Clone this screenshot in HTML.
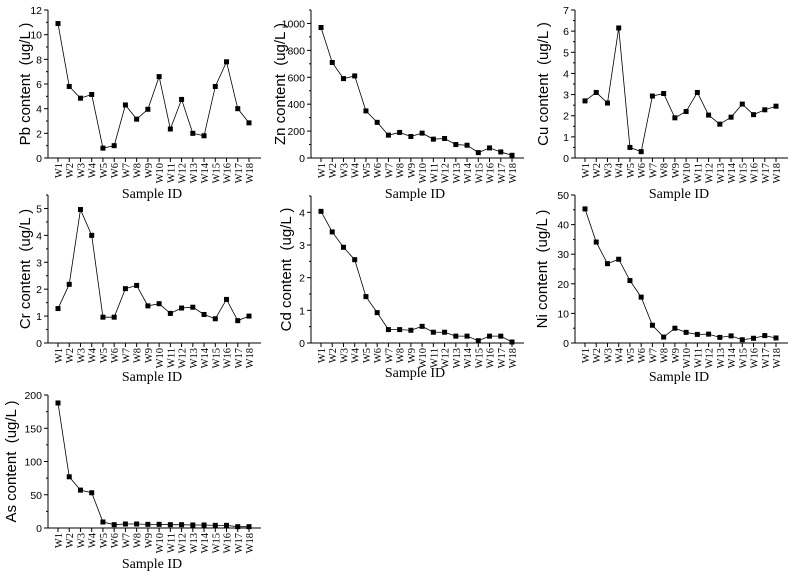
<!DOCTYPE html>
<html><head><meta charset="utf-8"><style>
html,body{margin:0;padding:0;background:#fff;}
svg{display:block;}
</style></head><body>
<svg id="c" width="793" height="577" xmlns="http://www.w3.org/2000/svg"></svg>
<script>
const categories = ["W1","W2","W3","W4","W5","W6","W7","W8","W9","W10","W11","W12","W13","W14","W15","W16","W17","W18"];
const pbValues = [10.9,5.8,4.85,5.15,0.8,1.0,4.3,3.15,3.95,6.6,2.35,4.75,2.0,1.8,5.8,7.8,4.0,2.85];
const znValues = [970,710,590,610,350,265,170,190,160,185,140,145,100,95,40,75,45,20];
const cuValues = [2.7,3.1,2.6,6.15,0.5,0.3,2.93,3.05,1.9,2.2,3.1,2.03,1.6,1.93,2.55,2.05,2.28,2.45];
const crValues = [1.28,2.18,4.96,4.0,0.96,0.96,2.02,2.14,1.38,1.46,1.1,1.3,1.33,1.06,0.9,1.62,0.83,1.0];
const cdValues = [4.03,3.4,2.93,2.55,1.42,0.93,0.41,0.41,0.39,0.51,0.33,0.33,0.21,0.21,0.07,0.21,0.21,0.03];
const niValues = [45.3,34.1,26.8,28.3,21.1,15.5,6.0,2.0,5.0,3.6,2.9,3.0,1.9,2.4,1.1,1.6,2.5,1.7];
const asValues = [188,77,57,53,9,5,6,6,5.5,5.5,5,5,4.5,4.5,4,4,2,2];
const pbTicks = [0,2,4,6,8,10,12];
const znTicks = [0,200,400,600,800,1000];
const cuTicks = [0,1,2,3,4,5,6,7];
const crTicks = [0,1,2,3,4,5];
const cdTicks = [0,1,2,3,4];
const niTicks = [0,10,20,30,40,50];
const asTicks = [0,50,100,150,200];

const NS="http://www.w3.org/2000/svg";
const svg=document.getElementById('c');
function mk(tag,attrs,parent){const e=document.createElementNS(NS,tag);for(const k in attrs)e.setAttribute(k,attrs[k]);(parent||svg).appendChild(e);return e;}

function chart(name,label,vals,ticks,ymax,ax,y0,ytop,sy,toff){
  const g=mk('g',{});
  
  
  const x1=ax+10, xn=ax+201, xend=ax+213;
  const xs=i=>x1+(xn-x1)*i/(categories.length-1);
  const ys=v=>y0-(y0-ytop)*v/ymax;
  const axisL=mk('line',{x1:ax,y1:y0,x2:ax,y2:ytop,stroke:'#000','stroke-width':1},g);
  
  
  const axisB=mk('line',{x1:ax,y1:y0,x2:xend,y2:y0,stroke:'#000','stroke-width':1},g);
  
  
  const step=ticks[1]-ticks[0];
  for(let v=0; v<=ymax+1e-9; v+=step/2){
    const y=ys(v); const major=Math.abs((v/step)-Math.round(v/step))<1e-6;
    mk('line',{x1:ax-(major?4:2),y1:y,x2:ax,y2:y,stroke:'#000'},g);
  }
  ticks.forEach(t=>{
    const tx=mk('text',{x:ax-6,y:ys(t)+4,'text-anchor':'end','font-family':'Liberation Sans, sans-serif','font-size':10.5,fill:'#000'},g);
    tx.textContent=t;
    
    
  });
  categories.forEach((c,i)=>{
    const x=xs(i);
    mk('line',{x1:x,y1:y0,x2:x,y2:y0+4,stroke:'#000'},g);
    const tx=mk('text',{x:0,y:0,'text-anchor':'end','font-family':'Liberation Serif, serif','font-size':10.5,fill:'#000',transform:`translate(${x+4},${y0+5}) rotate(-90)`},g);
    tx.textContent=c;
    
    
  });
  const pts=vals.map((v,i)=>xs(i)+','+ys(v)).join(' ');
  const pl=mk('polyline',{points:pts,fill:'none',stroke:'#000','stroke-width':0.8},g);
  
  
  vals.forEach((v,i)=>{
    const r=mk('rect',{x:xs(i)-2.5,y:ys(v)-2.5,width:5,height:5,fill:'#000'},g);
    
    
  });
  const cy=(y0+ytop)/2;
  const yt=mk('text',{x:0,y:0,'text-anchor':'middle','font-family':'Liberation Sans, sans-serif','font-size':15,fill:'#000',transform:`translate(${ax-toff+5},${cy}) rotate(-90)`},g);
  yt.textContent=label+' content\u00a0\u00a0(ug/L )';
  
  
  const xt=mk('text',{x:ax+104,y:sy,'text-anchor':'middle','font-family':'Liberation Serif, serif','font-size':14,fill:'#000'},g);
  xt.textContent='Sample ID';
  
  
}
chart('pb','Pb',pbValues,pbTicks,12,48,158,10,198,23);
chart('zn','Zn',znValues,znTicks,1100,311,158,10,198,31);
chart('cu','Cu',cuValues,cuTicks,7,575,158,10,198,32);
chart('cr','Cr',crValues,crTicks,5.5,48,343,195,381,23);
chart('cd','Cd',cdValues,cdTicks,4.5,311,343,196,377,25);
chart('ni','Ni',niValues,niTicks,50,575,343,195,381,33);
chart('as','As',asValues,asTicks,200,48,528,395,568,37);
</script>
</body></html>
